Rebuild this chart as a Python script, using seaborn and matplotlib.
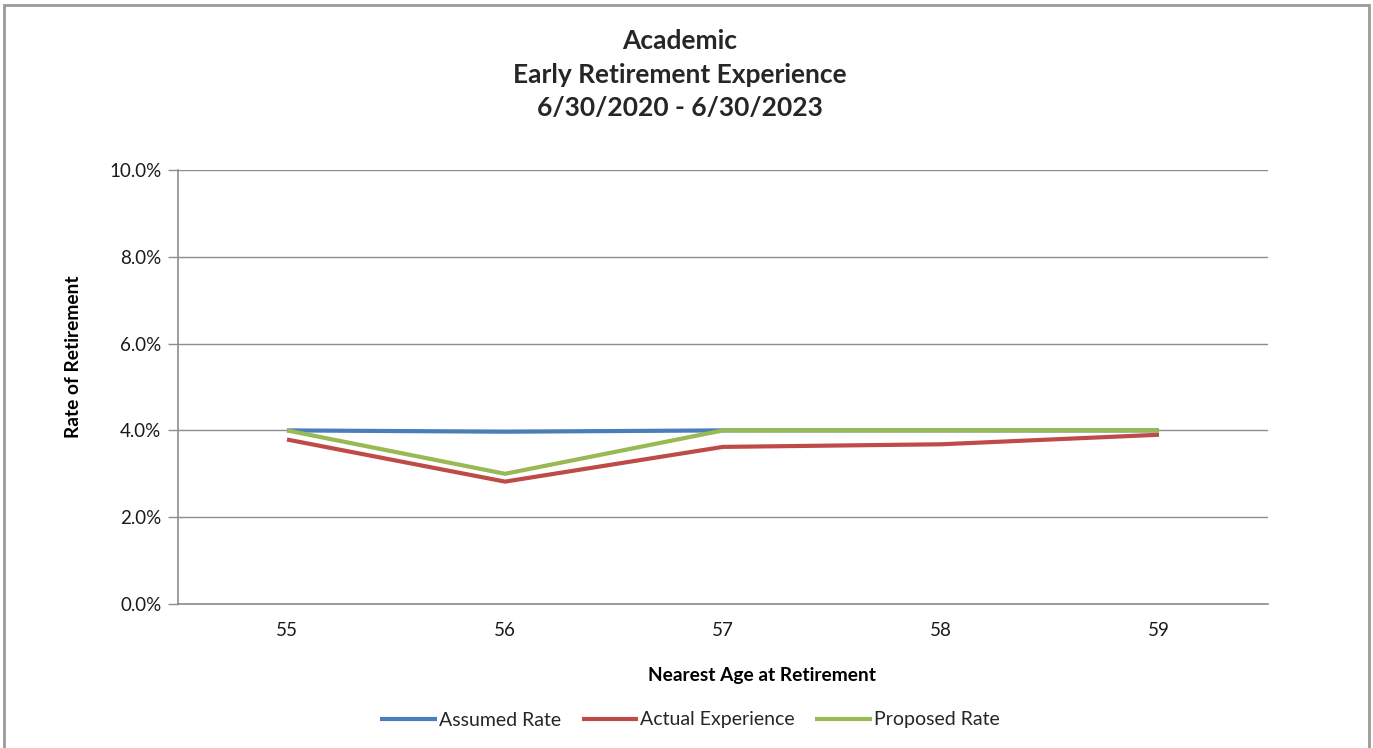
import matplotlib
matplotlib.use("Agg")
import matplotlib.pyplot as plt
from matplotlib.patches import Rectangle
from matplotlib.ticker import FuncFormatter, FixedLocator
import numpy as np
import pandas as pd
import seaborn as sns

# Retirement rates by nearest age at retirement (percent)
ages = [55, 56, 57, 58, 59]
assumed_rate = [4.00, 3.97, 4.00, 4.00, 4.00]
actual_experience = [3.79, 2.82, 3.62, 3.68, 3.90]
proposed_rate = [4.00, 3.00, 4.00, 4.00, 4.00]
series_names = ["Assumed Rate", "Actual Experience", "Proposed Rate"]
series_colors = ["#4A7EBB", "#BE4B48", "#98B954"]

sns.set_theme(style="white")
plt.rcParams["font.family"] = ["Lato", "DejaVu Sans"]

rows = []
for name, vals in zip(series_names, [assumed_rate, actual_experience, proposed_rate]):
    for i, (age, v) in enumerate(zip(ages, vals)):
        rows.append({"pos": i, "age": age, "rate": v / 100.0, "series": name})
df = pd.DataFrame(rows)

W, H = 1373, 748
fig = plt.figure(figsize=(W / 100, H / 100), dpi=100)
ax = fig.add_axes([178 / W, 1 - 604 / H, (1268 - 178) / W, (604 - 170) / H])

sns.lineplot(data=df, x="pos", y="rate", hue="series", hue_order=series_names,
             palette=series_colors, linewidth=3.0, ax=ax, legend=True,
             solid_capstyle="butt")

grid_c = "#8C8C8C"
text_c = "#1A1A1A"
ax.set_xlim(-0.5, len(ages) - 0.5)
ax.set_ylim(0, 0.10)
ax.set_yticks(np.arange(0, 0.101, 0.02))
ax.yaxis.set_major_formatter(FuncFormatter(lambda v, _: f"{v * 100:.1f}%"))
ax.grid(axis="y", color=grid_c, linewidth=1.0)
ax.set_axisbelow(True)

# category ticks sit between ages, labels centred on each age
ax.set_xticks(range(len(ages)))
ax.set_xticklabels([str(a) for a in ages])
ax.xaxis.set_minor_locator(FixedLocator(np.arange(-0.5, len(ages), 1.0)))
ax.tick_params(axis="x", which="major", length=0, pad=13, labelsize=13.5, labelcolor=text_c)
ax.tick_params(axis="x", which="minor", length=6, width=1, color=grid_c, direction="out")
ax.tick_params(axis="y", which="major", length=7, width=1, color=grid_c, direction="out",
               pad=5, labelsize=13.5, labelcolor=text_c, left=True)

for side in ["top", "right"]:
    ax.spines[side].set_visible(False)
for side in ["left", "bottom"]:
    ax.spines[side].set_color(grid_c)
    ax.spines[side].set_linewidth(1.2)

ax.set_xlabel("Nearest Age at Retirement", fontsize=13.8, fontweight="bold", color="black")
ax.xaxis.set_label_coords((762 - 178) / (1268 - 178), -(676 - 604) / (604 - 170))
ax.set_ylabel("Rate of Retirement", fontsize=13.8, fontweight="bold", color="black")
ax.yaxis.set_label_coords(-(178 - 74) / (1268 - 178), (604 - 357) / (604 - 170))
ax.xaxis.label.set_va("center")
ax.yaxis.label.set_va("center")

for line_text, y_px in zip(["Academic", "Early Retirement Experience", "6/30/2020 - 6/30/2023"],
                           [41, 75, 108]):
    fig.text(680 / W, 1 - y_px / H, line_text, ha="center", va="center",
             fontsize=19, fontweight="bold")

handles, labels = ax.get_legend_handles_labels()
ax.legend(handles, labels, loc="center", bbox_to_anchor=(690 / W, 1 - 720 / H),
          bbox_transform=fig.transFigure, ncol=3, frameon=False, fontsize=14.0,
          handlelength=2.9, handletextpad=0.12, columnspacing=1.05)

# chart-area border
fig.patches.append(Rectangle((4 / W, -0.01), (1369 - 4) / W, 1 - 5 / H + 0.01,
                             transform=fig.transFigure, fill=False,
                             edgecolor="#9A9A9A", linewidth=2))

fig.savefig("out.png", dpi=100)
